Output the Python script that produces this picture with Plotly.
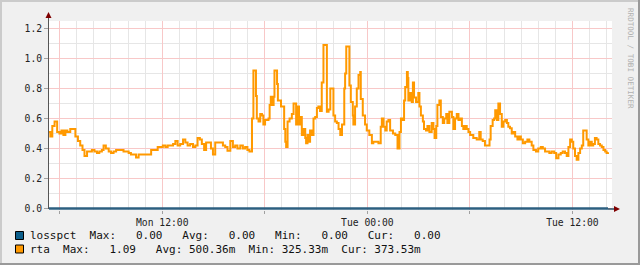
import plotly.graph_objects as go
from datetime import datetime, timedelta

# ---- data (minutes since Monday 00:00, values in seconds) ----
minutes = [321, 327, 334, 342, 351, 359, 366, 373, 380, 387, 397, 405, 415, 424, 432, 440, 447, 456,
           464, 473, 482, 491, 499, 508, 514, 522, 532, 540, 549, 558, 567, 575, 584, 593, 602, 610,
           619, 628, 637, 645, 654, 663, 672, 681, 687, 695, 704, 713, 722, 731, 739, 748, 758, 766,
           774, 783, 793, 801, 809, 818, 828, 836, 844, 852, 859, 867, 874, 882, 891, 898, 906, 914,
           924, 933, 941, 949, 959, 968, 976, 984, 994, 1003, 1011, 1019, 1026, 1035, 1040, 1049,
           1052, 1058, 1064, 1070, 1075, 1081, 1087, 1093, 1097, 1101, 1105, 1111, 1114, 1123, 1126,
           1132, 1137, 1144, 1148, 1152, 1155, 1160, 1167, 1175, 1181, 1187, 1190, 1195, 1200, 1204,
           1210, 1216, 1222, 1225, 1230, 1235, 1239, 1245, 1251, 1257, 1263, 1268, 1274, 1280, 1286,
           1294, 1298, 1304, 1310, 1317, 1321, 1327, 1333, 1339, 1345, 1351, 1359, 1362, 1366, 1374,
           1377, 1382, 1389, 1391, 1397, 1403, 1409, 1415, 1417, 1424, 1432, 1438, 1447, 1456, 1461,
           1471, 1479, 1487, 1491, 1497, 1503, 1508, 1514, 1520, 1530, 1538, 1546, 1553, 1558, 1565,
           1569, 1573, 1579, 1582, 1584, 1590, 1596, 1600, 1604, 1611, 1619, 1623, 1628, 1635, 1639,
           1646, 1651, 1658, 1666, 1672, 1676, 1682, 1686, 1693, 1698, 1705, 1710, 1717, 1721, 1728,
           1737, 1742, 1748, 1754, 1760, 1766, 1772, 1777, 1783, 1789, 1795, 1801, 1807, 1812, 1818,
           1824, 1833, 1838, 1845, 1853, 1862, 1869, 1873, 1880, 1885, 1889, 1895, 1900, 1906, 1912,
           1918, 1924, 1930, 1935, 1941, 1947, 1953, 1959, 1967, 1974, 1979, 1986, 1994, 2002, 2009,
           2017, 2023, 2032, 2040, 2049, 2056, 2064, 2072, 2079, 2087, 2096, 2103, 2111, 2119, 2126,
           2134, 2140, 2146, 2152, 2158, 2163, 2169, 2175, 2181, 2187, 2193, 2198, 2204, 2210, 2216,
           2222, 2228, 2233, 2239, 2245, 2251, 2257, 2263, 2269, 2275, 2280, 2285]

rta = [0.51, 0.48, 0.55, 0.58, 0.51, 0.50, 0.52, 0.49, 0.52, 0.51, 0.53, 0.53, 0.48, 0.45, 0.42, 0.39, 0.35, 0.38,
       0.38, 0.39, 0.38, 0.37, 0.38, 0.39, 0.42, 0.40, 0.38, 0.37, 0.38, 0.39, 0.39, 0.39, 0.38, 0.38, 0.37, 0.36,
       0.36, 0.34, 0.36, 0.36, 0.36, 0.36, 0.36, 0.39, 0.39, 0.39, 0.41, 0.41, 0.42, 0.41, 0.42, 0.42, 0.43, 0.45,
       0.42, 0.43, 0.46, 0.44, 0.42, 0.43, 0.41, 0.42, 0.47, 0.46, 0.43, 0.39, 0.44, 0.44, 0.40, 0.36, 0.44, 0.44,
       0.44, 0.42, 0.41, 0.385, 0.45, 0.41, 0.42, 0.40, 0.42, 0.40, 0.41, 0.39, 0.38, 0.60, 0.92, 0.75,
       0.60, 0.58, 0.63, 0.62, 0.56, 0.59, 0.59, 0.60, 0.69, 0.745, 0.69, 0.745, 0.92, 0.83, 0.72,
       0.72, 0.68, 0.68, 0.53, 0.445, 0.41, 0.58, 0.60, 0.63, 0.70, 0.70, 0.56, 0.68, 0.56, 0.61,
       0.49, 0.53, 0.47, 0.435, 0.49, 0.445, 0.52, 0.49, 0.60, 0.61, 0.67, 0.68, 0.65, 0.84, 1.09,
       1.09, 0.645, 0.66, 0.80, 0.80, 0.62, 0.58, 0.57, 0.53, 0.49, 0.56, 0.80, 0.90, 1.08, 1.08,
       0.82, 0.71, 0.62, 0.56, 0.68, 0.80, 0.89, 0.91, 0.73, 0.62, 0.56, 0.52, 0.49, 0.435, 0.445,
       0.445, 0.435, 0.545, 0.60, 0.545, 0.52, 0.58, 0.59, 0.52, 0.50, 0.49, 0.40, 0.51, 0.60, 0.59,
       0.72, 0.81, 0.91, 0.87, 0.72, 0.77, 0.71, 0.84, 0.74, 0.71, 0.77, 0.68, 0.62, 0.58, 0.53,
       0.52, 0.55, 0.51, 0.57, 0.53, 0.47, 0.55, 0.69, 0.72, 0.61, 0.57, 0.60, 0.63, 0.57, 0.645,
       0.61, 0.53, 0.60, 0.63, 0.59, 0.60, 0.55, 0.53, 0.55, 0.53, 0.51, 0.49, 0.49, 0.47, 0.47,
       0.46, 0.51, 0.46, 0.45, 0.42, 0.42, 0.46, 0.55, 0.59, 0.60, 0.655, 0.59, 0.70, 0.63, 0.545,
       0.58, 0.59, 0.57, 0.545, 0.535, 0.50, 0.51, 0.48, 0.46, 0.48, 0.46, 0.435, 0.445, 0.46, 0.445,
       0.42, 0.39, 0.38, 0.40, 0.41, 0.40, 0.38, 0.38, 0.37, 0.38, 0.37, 0.335, 0.36, 0.37, 0.38,
       0.37, 0.35, 0.41, 0.46, 0.445, 0.40, 0.35, 0.325, 0.37, 0.40, 0.42, 0.52, 0.52, 0.46, 0.42,
       0.445, 0.42, 0.43, 0.47, 0.46, 0.43, 0.42, 0.41, 0.39, 0.38, 0.37, 0.375]

losspct_minutes = [321, 2285]
losspct = [0.0, 0.0]

x_tick_labels = ["", "Mon 12:00", "", "Tue 00:00", "", "Tue 12:00"]
legend_rows = [
    ("losspct", "#0C5F8C", "losspct  Max:   0.00   Avg:   0.00   Min:   0.00   Cur:   0.00"),
    ("rta", "#FF9900", "rta  Max:   1.09   Avg: 500.36m  Min: 325.33m  Cur: 373.53m"),
]

base = datetime(2024, 1, 1)  # a Monday
def t(m):
    return base + timedelta(minutes=m)

W, H = 640, 265
ML, MR, MT, MB = 49, 28, 21, 55
PW, PH = W - ML - MR, H - MT - MB

def px(x):
    return (x - ML) / PW

def py(y):
    return (H - MB - y) / PH

fig = go.Figure()
fig.add_trace(go.Scatter(x=[t(m) for m in minutes], y=rta, mode="lines",
                         line=dict(color="#FF9900", width=2, shape="hv"), hoverinfo="skip"))
fig.add_trace(go.Scatter(x=[t(m) for m in losspct_minutes], y=losspct, mode="lines",
                         line=dict(color="#2C5F80", width=2.5, shape="hv"), hoverinfo="skip"))

mono = "DejaVu Sans Mono"
tickvals = [t(360 * k) for k in range(1, 7)]

fig.update_layout(
    width=W, height=H, margin=dict(l=ML, r=MR, t=MT, b=MB),
    paper_bgcolor="#F0F0F0", plot_bgcolor="#FFFFFF", showlegend=False,
    xaxis=dict(type="date", range=[t(322.4), t(2299)], tickmode="array",
               tickvals=tickvals, ticktext=x_tick_labels,
               showgrid=True, gridcolor="#F8C8C8", gridwidth=1,
               ticks="outside", ticklen=3, tickcolor="#A0A0A0",
               tickfont=dict(family=mono, size=9.7, color="#222"),
               minor=dict(dtick=3600000, tick0=t(0), showgrid=True, gridcolor="#E6E6E6", gridwidth=1),
               showline=False, zeroline=False, fixedrange=True),
    yaxis=dict(range=[-0.01, 1.25], tickmode="linear", tick0=0, dtick=0.2, tickformat=".1f",
               showgrid=True, gridcolor="#F8C8C8", gridwidth=1,
               ticks="outside", ticklen=4, tickcolor="#A0A0A0",
               tickfont=dict(family=mono, size=9.7, color="#222"),
               minor=dict(dtick=0.1, showgrid=True, gridcolor="#E6E6E6", gridwidth=1),
               showline=False, zeroline=False, fixedrange=True),
)

shapes = []
# y axis line with arrow
shapes.append(dict(type="line", xref="paper", yref="paper", x0=px(48.5), x1=px(48.5), y0=py(209), y1=py(15),
                   line=dict(color="#555555", width=1)))
shapes.append(dict(type="path", xref="paper", yref="paper",
                   path=f"M {px(45.5)} {py(18)} L {px(51.5)} {py(18)} L {px(48.5)} {py(12)} Z",
                   fillcolor="#7F0000", line=dict(width=0)))
# x axis arrow
shapes.append(dict(type="line", xref="paper", yref="paper", x0=px(608), x1=px(615), y0=py(209), y1=py(209),
                   line=dict(color="#2C4D63", width=1.5)))
shapes.append(dict(type="path", xref="paper", yref="paper",
                   path=f"M {px(614)} {py(206)} L {px(614)} {py(212)} L {px(620)} {py(209)} Z",
                   fillcolor="#7F0000", line=dict(width=0)))
# frame shading
shapes.append(dict(type="line", xref="paper", yref="paper", x0=px(0), x1=px(640), y0=py(1), y1=py(1),
                   line=dict(color="#CBCBCB", width=2)))
shapes.append(dict(type="line", xref="paper", yref="paper", x0=px(1), x1=px(1), y0=py(0), y1=py(265),
                   line=dict(color="#CBCBCB", width=2)))
shapes.append(dict(type="line", xref="paper", yref="paper", x0=px(0), x1=px(640), y0=py(264), y1=py(264),
                   line=dict(color="#999999", width=2)))
shapes.append(dict(type="line", xref="paper", yref="paper", x0=px(639), x1=px(639), y0=py(0), y1=py(265),
                   line=dict(color="#999999", width=2)))

annotations = []
row_y = [235.5, 249]
for (name, color, text), yy in zip(legend_rows, row_y):
    shapes.append(dict(type="rect", xref="paper", yref="paper", x0=px(15.5), x1=px(23.5),
                       y0=py(yy - 4), y1=py(yy + 4), fillcolor=color, line=dict(color="#000000", width=1)))
    annotations.append(dict(xref="paper", yref="paper", x=px(28), y=py(yy), text=text.replace(" ", "&nbsp;"),
                            showarrow=False, xanchor="left", yanchor="middle",
                            font=dict(family=mono, size=11, color="#111")))

annotations.append(dict(xref="paper", yref="paper", x=px(631), y=py(58), text="RRDTOOL / TOBI OETIKER",
                        showarrow=False, textangle=90, xanchor="center", yanchor="middle",
                        font=dict(family=mono, size=7.6, color="#B0B0B0")))

fig.update_layout(shapes=shapes, annotations=annotations)
fig.write_html("out.html")
